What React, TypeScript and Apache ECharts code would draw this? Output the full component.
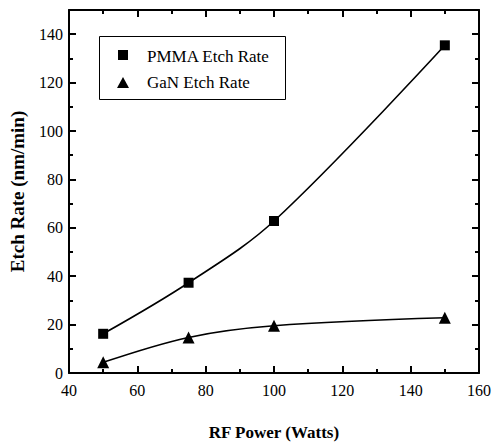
import React, { useEffect, useRef } from "react";
import * as echarts from "echarts";

const rfPower = [50, 75, 100, 150];
const pmmaRate = [16.2, 37.3, 62.8, 135.4];
const ganRate = [4.4, 14.7, 19.5, 22.8];
const seriesNames = ["PMMA Etch Rate", "GaN Etch Rate"];
const xTitle = "RF Power (Watts)";
const yTitle = "Etch Rate (nm/min)";

const FONT = "Liberation Serif";

export default function App() {
  const ref = useRef<HTMLDivElement>(null);
  useEffect(() => {
    document.body.style.margin = "0";
    const chart = echarts.init(ref.current!, null, { renderer: "svg" });
    const tick = { show: true, inside: true, length: 7, lineStyle: { color: "#000", width: 2 } };
    const minor = { show: true, splitNumber: 2, length: 4, lineStyle: { color: "#000", width: 2 } };
    chart.setOption({
      animation: false,
      backgroundColor: "#fff",
      textStyle: { fontFamily: FONT, color: "#000" },
      grid: { left: 64, right: 11, top: 10, bottom: 64 },
      graphic: [
        {
          type: "rect",
          left: 99,
          top: 36,
          shape: { width: 186, height: 63 },
          style: { fill: "#fff", stroke: "#000", lineWidth: 1 },
          z: 10,
        },
        {
          type: "rect",
          left: 118,
          top: 50,
          shape: { width: 10, height: 10 },
          style: { fill: "#000" },
          z: 11,
        },
        {
          type: "polygon",
          shape: { points: [[117, 88], [129, 88], [123, 77]] },
          style: { fill: "#000" },
          z: 11,
        },
        {
          type: "text",
          x: 147,
          y: 56,
          style: { text: seriesNames[0], fill: "#000", font: `17px ${FONT}`, verticalAlign: "middle" },
          z: 11,
        },
        {
          type: "text",
          x: 147,
          y: 82,
          style: { text: seriesNames[1], fill: "#000", font: `17px ${FONT}`, verticalAlign: "middle" },
          z: 11,
        },
      ],
      xAxis: [
        {
          type: "value",
          min: 40,
          max: 160,
          interval: 20,
          name: xTitle,
          nameLocation: "middle",
          nameGap: 51,
          nameTextStyle: { fontSize: 17, fontWeight: "bold", color: "#000" },
          axisLine: { show: true, lineStyle: { color: "#000", width: 2 } },
          axisTick: { ...tick },
          minorTick: { ...minor },
          axisLabel: { fontSize: 16, color: "#000", margin: 9 },
          splitLine: { show: false },
        },
        {
          type: "value",
          min: 40,
          max: 160,
          interval: 20,
          axisLine: { show: true, onZero: false, lineStyle: { color: "#000", width: 2 } },
          axisTick: { ...tick },
          minorTick: { ...minor },
          axisLabel: { show: false },
          splitLine: { show: false },
        },
      ],
      yAxis: [
        {
          type: "value",
          min: 0,
          max: 150,
          interval: 20,
          name: yTitle,
          nameLocation: "middle",
          nameGap: 42,
          nameTextStyle: { fontSize: 19, fontWeight: "bold", color: "#000" },
          axisLine: { show: true, lineStyle: { color: "#000", width: 2 } },
          axisTick: { ...tick },
          minorTick: { ...minor },
          axisLabel: {
            fontSize: 16,
            color: "#000",
            margin: 6,
            formatter: (v: number) => (v === 150 ? "" : String(v)),
          },
          splitLine: { show: false },
        },
        {
          type: "value",
          min: 0,
          max: 150,
          interval: 20,
          axisLine: { show: true, lineStyle: { color: "#000", width: 2 } },
          axisTick: { ...tick },
          minorTick: { ...minor },
          axisLabel: { show: false },
          splitLine: { show: false },
        },
      ],
      series: [
        {
          name: seriesNames[0],
          type: "line",
          smooth: 0.35,
          data: rfPower.map((x, i) => [x, pmmaRate[i]]),
          symbol: "rect",
          symbolSize: 10,
          lineStyle: { color: "#000", width: 1.6 },
          itemStyle: { color: "#000" },
        },
        {
          name: seriesNames[1],
          type: "line",
          smooth: 0.35,
          data: rfPower.map((x, i) => [x, ganRate[i]]),
          symbol: "triangle",
          symbolSize: 12,
          lineStyle: { color: "#000", width: 1.6 },
          itemStyle: { color: "#000" },
        },
      ],
    });
    return () => chart.dispose();
  }, []);
  return (
    <div
      ref={ref}
      style={{ position: "absolute", left: 0, top: 0, width: 494, height: 446 }}
    />
  );
}
